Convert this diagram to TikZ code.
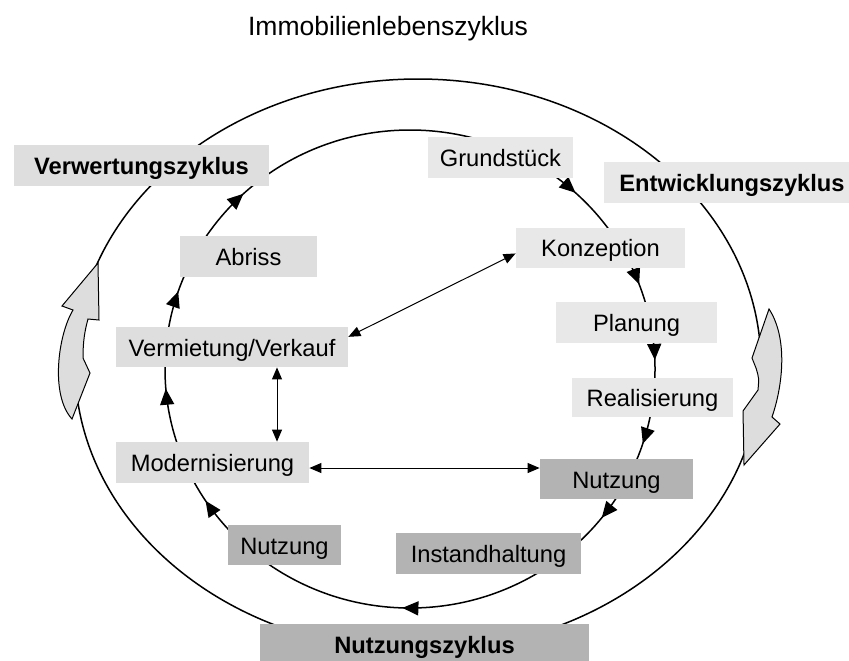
\documentclass[tikz,border=0pt]{standalone}
\usepackage{fontspec}
\setmainfont{Liberation Sans}
\usepackage{xcolor}
\definecolor{paleboxgrey}{HTML}{E8E8E8}
\definecolor{boxgrey}{HTML}{DEDEDE}
\definecolor{darkboxgrey}{HTML}{B3B3B3}
\definecolor{arrowgrey}{HTML}{DDDDDD}
\usetikzlibrary{arrows.meta,decorations.markings,backgrounds}

\begin{document}
\begin{tikzpicture}[
  x=0.5pt,y=-0.5pt,
  stage/.style={fill=boxgrey,inner sep=0pt,minimum height=20.5pt,text height=9pt,text depth=0pt,font=\fontsize{11.85}{14}\selectfont},
  devstage/.style={stage,fill=paleboxgrey},
  usestage/.style={stage,fill=darkboxgrey},
  cyclelabel/.style={stage,font=\fontsize{11.85}{14}\selectfont\bfseries},
  cycleline/.style={line width=0.75pt},
  cyclemarks/.style={postaction={decorate},decoration={markings,
    mark=at position 0.050 with {\arrow{Triangle[length=8pt,width=7pt]}},
    mark=at position 0.106 with {\arrow{Triangle[length=8pt,width=7pt]}},
    mark=at position 0.255 with {\arrow{Triangle[length=8pt,width=7pt]}},
    mark=at position 0.408 with {\arrow{Triangle[length=8pt,width=7pt]}},
    mark=at position 0.487 with {\arrow{Triangle[length=8pt,width=7pt]}},
    mark=at position 0.552 with {\arrow{Triangle[length=8pt,width=7pt]}},
    mark=at position 0.630 with {\arrow{Triangle[length=8pt,width=7pt]}},
    mark=at position 0.869 with {\arrow{Triangle[length=8pt,width=7pt]}},
    mark=at position 0.943 with {\arrow{Triangle[length=8pt,width=7pt]}},
    mark=at position 0.994 with {\arrow{Triangle[length=8pt,width=7pt]}}}},
  linkarrow/.style={{Triangle[length=6pt,width=5pt]}-{Triangle[length=6pt,width=5pt]},line width=0.5pt},
  blockarrow/.style={draw,fill=arrowgrey,line width=0.5pt,line join=miter}
]
\useasboundingbox (0,0) rectangle (849,660);
\node[font=\fontsize{13.25}{16}\selectfont] (title) at (388,29) {Immobilienlebenszyklus};
% the three cycles
\node[cyclelabel,minimum width=127.5pt] (verw) at (141.5,165.5) {Verwertungszyklus};
\node[cyclelabel,fill=paleboxgrey,minimum width=128pt] (entw) at (732,182) {Entwicklungszyklus};
\node[cyclelabel,fill=darkboxgrey,minimum width=164.5pt,minimum height=20pt] (nutzz) at (424.5,644) {Nutzungszyklus};
% stages
\node[devstage,minimum width=72.5pt] (grund) at (500.5,157.5) {Grundstück};
\node[devstage,minimum width=84.5pt,minimum height=20pt] (konz) at (600.5,247.5) {Konzeption};
\node[devstage,minimum width=80.5pt] (plan) at (636.5,322.5) {Planung};
\node[devstage,minimum width=80.5pt,minimum height=19.5pt] (real) at (652.5,397.5) {Realisierung};
\node[usestage,minimum width=76.5pt,minimum height=20pt] (nutzR) at (616.5,479) {Nutzung};
\node[usestage,minimum width=92.5pt] (inst) at (488.5,553.5) {Instandhaltung};
\node[usestage,minimum width=56.5pt,minimum height=20pt] (nutzL) at (284.5,545) {Nutzung};
\node[stage,minimum width=96.5pt] (mod) at (212.5,462.5) {Modernisierung};
\node[stage,minimum width=116pt,minimum height=20pt] (verm) at (232,347) {Vermietung/Verkauf};
\node[stage,minimum width=68.5pt] (abriss) at (248.5,256.5) {Abriss};
\coordinate (ic) at (410,369);
\coordinate (oc) at (418,365);
\coordinate (tx) at (277,400);
\coordinate (hy) at (420,468);
\begin{scope}[on background layer]
\draw[cycleline] (oc) ellipse[x radius=343,y radius=286];
\draw[cycleline,cyclemarks] (ic) ++(245,0) arc[start angle=0,end angle=360,x radius=245,y radius=239];
\draw[blockarrow] (769,309) -- (752,358) -- (756,368) .. controls (759,378) .. (758,390) -- (743,411) -- (744,465) -- (780,424) -- (772,417) .. controls (783,385) and (788,338) .. (769,309) -- cycle;
\draw[blockarrow] (98,263) -- (62,306) -- (73,310) .. controls (58,335) and (50,395) .. (72,419) -- (90,373) -- (83,358) .. controls (83,340) and (85,330) .. (88,319) -- (99,320) -- cycle;
\end{scope}
\draw[linkarrow] (verm.5) -- (konz.184);
\draw[linkarrow] (verm.south -| tx) -- (tx |- mod.north);
\draw[linkarrow] (mod.east |- hy) -- (nutzR.west |- hy);
\end{tikzpicture}
\end{document}
